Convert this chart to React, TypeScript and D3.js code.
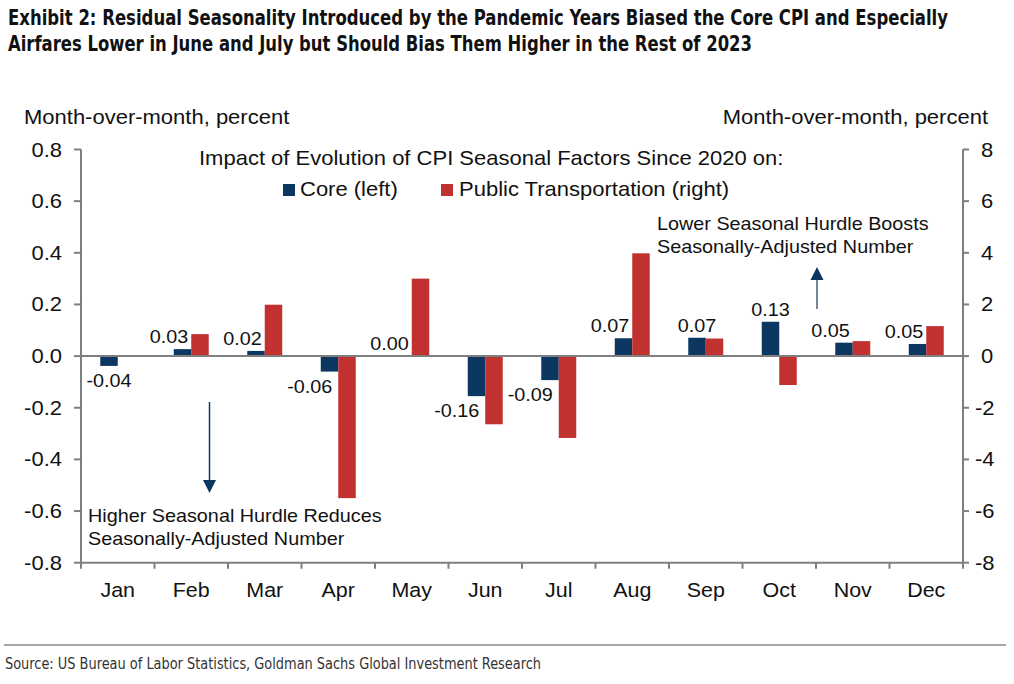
import React from "react";
import * as d3 from "d3";

const months = ["Jan", "Feb", "Mar", "Apr", "May", "Jun", "Jul", "Aug", "Sep", "Oct", "Nov", "Dec"];
const coreValues = [-0.038, 0.027, 0.02, -0.06, 0.0, -0.155, -0.093, 0.069, 0.071, 0.133, 0.052, 0.047];
const coreLabels = ["-0.04", "0.03", "0.02", "-0.06", "0.00", "-0.16", "-0.09", "0.07", "0.07", "0.13", "0.05", "0.05"];
const transportValues = [0, 0.85, 1.99, -5.5, 3.0, -2.64, -3.17, 3.98, 0.68, -1.12, 0.58, 1.16];
const leftTicks = [-0.8, -0.6, -0.4, -0.2, 0.0, 0.2, 0.4, 0.6, 0.8];
const rightTicks = [-8, -6, -4, -2, 0, 2, 4, 6, 8];

const NAVY = "#0c3761";
const RED = "#c1312f";
const AXIS = "#7f7f7f";
const FONT = "'Liberation Sans', Arial, Helvetica, sans-serif";
const NARROW = "'Liberation Sans Narrow', 'DejaVu Sans Condensed', Arial, sans-serif";
const SX = 1.1;

type TProps = {
  x: number;
  y: number;
  size: number;
  anchor?: "start" | "middle" | "end";
  dy?: string;
  children: React.ReactNode;
};

function T({ x, y, size, anchor = "start", dy, children }: TProps) {
  return (
    <text
      transform={`translate(${x},${y}) scale(${SX},1)`}
      fontSize={size}
      fill="#111"
      textAnchor={anchor}
      dy={dy}
    >
      {children}
    </text>
  );
}

export default function App() {
  const W = 1014, H = 684;
  const left = 81, right = 963, top = 149.5, bottom = 562.7;
  const x = d3.scaleBand<string>().domain(months).range([left, right]).paddingInner(0).paddingOuter(0);
  const yL = d3.scaleLinear().domain([-0.8, 0.8]).range([bottom, top]);
  const yR = d3.scaleLinear().domain([-8, 8]).range([bottom, top]);
  const bw = x.bandwidth() * 0.238;
  const y0 = yL(0);

  return (
    <svg width={W} height={H} style={{ position: "absolute", left: 0, top: 0, background: "#fff" }} fontFamily={FONT}>
      <rect x={0} y={0} width={W} height={H} fill="#fff" />
      {/* Title */}
      <text transform="translate(8,25) scale(1,1.2)" fontFamily={NARROW} fontWeight="bold" fontSize={18} fill="#111" textLength={940} lengthAdjust="spacingAndGlyphs">
        Exhibit 2: Residual Seasonality Introduced by the Pandemic Years Biased the Core CPI and Especially
      </text>
      <text transform="translate(8,51) scale(1,1.2)" fontFamily={NARROW} fontWeight="bold" fontSize={18} fill="#111" textLength={744} lengthAdjust="spacingAndGlyphs">
        Airfares Lower in June and July but Should Bias Them Higher in the Rest of 2023
      </text>

      {/* Axis titles */}
      <T x={24} y={124} size={20}>Month-over-month, percent</T>
      <T x={988} y={124} size={20} anchor="end">Month-over-month, percent</T>

      {/* Legend */}
      <T x={199} y={165} size={20}>Impact of Evolution of CPI Seasonal Factors Since 2020 on:</T>
      <rect x={283} y={184} width={12} height={12} fill={NAVY} />
      <T x={300} y={196} size={20}>Core (left)</T>
      <rect x={441} y={184} width={12} height={12} fill={RED} />
      <T x={459} y={196} size={20}>Public Transportation (right)</T>

      {/* Bars */}
      {months.map((m, i) => {
        const cx = (x(m) as number) + x.bandwidth() / 2;
        const cy = yL(coreValues[i]);
        const ty = yR(transportValues[i]);
        return (
          <g key={m}>
            <rect x={cx - bw} y={Math.min(cy, y0)} width={bw} height={Math.abs(cy - y0)} fill={NAVY} />
            <rect x={cx} y={Math.min(ty, y0)} width={bw} height={Math.abs(ty - y0)} fill={RED} />
          </g>
        );
      })}

      {/* Zero line */}
      <line x1={left} x2={right} y1={y0} y2={y0} stroke={AXIS} strokeWidth={2} />

      {/* Data labels */}
      {months.map((m, i) => {
        const cx = (x(m) as number) + x.bandwidth() / 2;
        const cv = coreValues[i];
        const tv = transportValues[i];
        const cy = yL(cv);
        const ty = yR(tv);
        const pos = cv >= 0;
        const sameSide = (pos ? tv > 0 : tv < 0) && Math.abs(ty - y0) > Math.abs(cy - y0);
        const lx = sameSide ? cx - (pos ? 3 : 6) : cx - bw / 2;
        const ly = pos ? cy - 6 : cy + 21;
        return (
          <T key={m} x={lx} y={ly} size={18} anchor={sameSide ? "end" : "middle"}>
            {coreLabels[i]}
          </T>
        );
      })}

      {/* Left axis */}
      <line x1={left} x2={left} y1={top} y2={bottom} stroke={AXIS} strokeWidth={2} />
      {leftTicks.map((t) => (
        <g key={"l" + t}>
          <line x1={left - 7} x2={left} y1={yL(t)} y2={yL(t)} stroke={AXIS} strokeWidth={2} />
          <T x={62} y={yL(t)} dy="0.35em" size={20} anchor="end">
            {d3.format(".1f")(t).replace("−", "-")}
          </T>
        </g>
      ))}

      {/* Right axis */}
      <line x1={right} x2={right} y1={top} y2={bottom} stroke={AXIS} strokeWidth={2} />
      {rightTicks.map((t) => (
        <g key={"r" + t}>
          <line x1={right} x2={right + 6} y1={yR(t)} y2={yR(t)} stroke={AXIS} strokeWidth={2} />
          <T x={t < 0 ? 975 : 981} y={yR(t)} dy="0.35em" size={20}>
            {String(t)}
          </T>
        </g>
      ))}

      {/* Bottom axis */}
      <line x1={left} x2={right} y1={bottom} y2={bottom} stroke={AXIS} strokeWidth={2} />
      {[...months.map((m) => x(m) as number), right].map((px, i) => (
        <line key={"bt" + i} x1={px} x2={px} y1={bottom} y2={bottom + 6} stroke={AXIS} strokeWidth={2} />
      ))}
      {months.map((m) => (
        <T key={"xl" + m} x={(x(m) as number) + x.bandwidth() / 2} y={597} size={19.5} anchor="middle">
          {m}
        </T>
      ))}

      {/* Annotations */}
      <line x1={209.5} x2={209.5} y1={402} y2={482} stroke={NAVY} strokeWidth={1.5} />
      <path d="M203,480 L216,480 L209.5,493 Z" fill={NAVY} />
      <T x={88} y={522} size={18}>Higher Seasonal Hurdle Reduces</T>
      <T x={88} y={545} size={18}>Seasonally-Adjusted Number</T>

      <line x1={817} x2={817} y1={309} y2={278} stroke="#4a5f78" strokeWidth={1.5} />
      <path d="M810.5,280 L823.5,280 L817,267 Z" fill={NAVY} />
      <T x={657} y={230} size={18}>Lower Seasonal Hurdle Boosts</T>
      <T x={657} y={253} size={18}>Seasonally-Adjusted Number</T>

      {/* Footer */}
      <line x1={4} x2={1006} y1={645} y2={645} stroke="#8a8a8a" strokeWidth={1.5} />
      <text x={5} y={669} fontFamily={NARROW} fontSize={16} fill="#333" textLength={536} lengthAdjust="spacingAndGlyphs">
        Source: US Bureau of Labor Statistics, Goldman Sachs Global Investment Research
      </text>
    </svg>
  );
}
